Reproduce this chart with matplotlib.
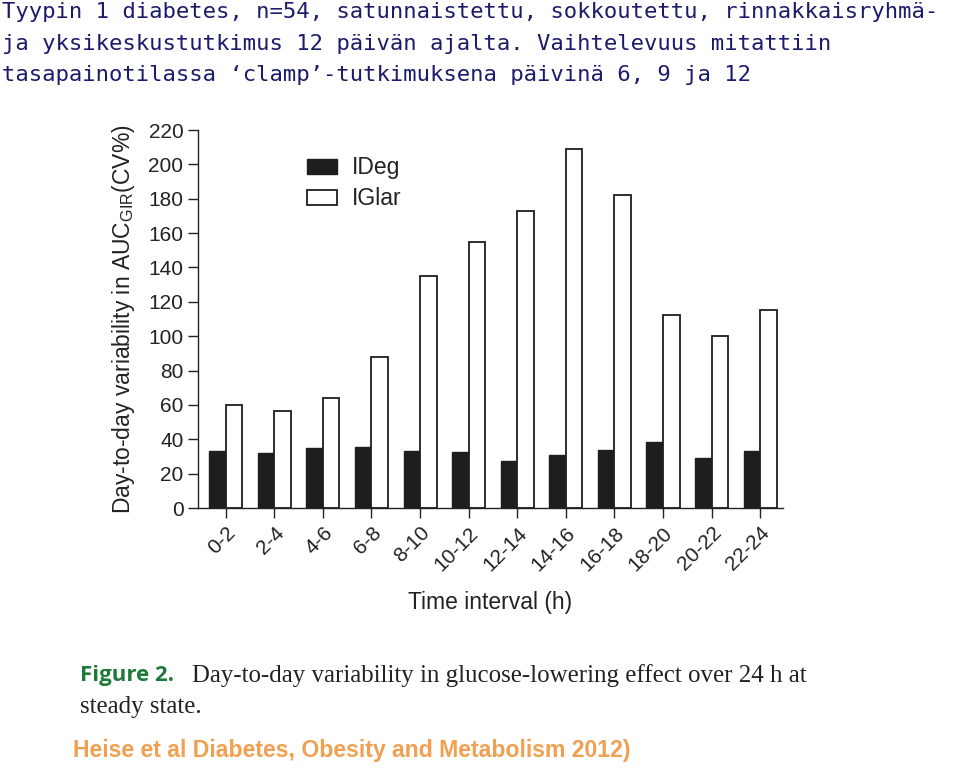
import matplotlib
matplotlib.use("Agg")
import matplotlib.pyplot as plt
import numpy as np

# data
intervals = ['0-2', '2-4', '4-6', '6-8', '8-10', '10-12', '12-14',
             '14-16', '16-18', '18-20', '20-22', '22-24']
ideg = [33, 32, 35, 35.5, 33, 32.5, 27.5, 31, 34, 38.5, 29, 33]
iglar = [60, 56.5, 64, 88, 135, 155, 173, 209, 182, 112.5, 100, 115]
yticks = np.arange(0, 221, 20)

title_lines = [
    'Tyypin 1 diabetes, n=54, satunnaistettu, sokkoutettu, rinnakkaisryhmä-',
    'ja yksikeskustutkimus 12 päivän ajalta. Vaihtelevuus mitattiin',
    'tasapainotilassa \u2018clamp\u2019-tutkimuksena päivinä 6, 9 ja 12',
]

plt.rcParams['font.family'] = ['Liberation Sans', 'DejaVu Sans']

fig = plt.figure(figsize=(9.6, 7.69), dpi=100)
ax = fig.add_axes([198 / 960, 1 - 508 / 769, 585 / 960, 378 / 769])

x = np.arange(len(intervals))
w = 0.34
ax.bar(x - w / 2, ideg, w, color='#1e1e1e', edgecolor='#1e1e1e', linewidth=1, label='IDeg')
ax.bar(x + w / 2, iglar, w, color='white', edgecolor='#1e1e1e', linewidth=1.3, label='IGlar')

ax.set_xlim(-0.57, 11.47)
ax.set_ylim(0, 220)
ax.set_yticks(yticks)
ax.set_xticks(x)
ax.set_xticklabels(intervals, rotation=45, ha='right', rotation_mode='anchor')
ax.tick_params(axis='both', labelsize=15, length=7, width=1, color='#222222',
               labelcolor='#222222')
ax.tick_params(axis='x', pad=4)
for s in ['top', 'right']:
    ax.spines[s].set_visible(False)
for s in ['left', 'bottom']:
    ax.spines[s].set_linewidth(1)
    ax.spines[s].set_color('#222222')

ax.set_ylabel(r'Day-to-day variability in AUC$_{\mathregular{GIR}}$(CV%)',
              fontsize=16.5, color='#222222', labelpad=8)
ax.set_xlabel('Time interval (h)', fontsize=16.5, color='#222222', labelpad=12)

ax.legend(loc='upper left', bbox_to_anchor=(0.186, 0.93), frameon=False,
          fontsize=16.5, handlelength=1.3, handleheight=0.65, handletextpad=0.65,
          labelspacing=0.35, borderpad=0, borderaxespad=0, labelcolor='#222222')

navy = '#1b1b6b'
for i, line in enumerate(title_lines):
    fig.text(2 / 960, 1 - (2 + i * 31.5) / 769, line, fontsize=16, color=navy,
             ha='left', va='top', family=['DejaVu Sans Mono'])

green = '#1f7a3a'
fig.text(80 / 960, 1 - 676 / 769, 'Figure 2.', fontsize=16, fontweight='bold',
         color=green, va='center', family=['Open Sans', 'DejaVu Sans'])
fig.text(192 / 960, 1 - 676 / 769,
         'Day-to-day variability in glucose-lowering effect over 24 h at',
         fontsize=17.9, color='#222222', va='center', family=['Liberation Serif'])
fig.text(80 / 960, 1 - 707 / 769, 'steady state.', fontsize=17.9, color='#222222',
         va='center', family=['Liberation Serif'])

fig.text(73 / 960, 1 - 750 / 769, 'Heise et al Diabetes, Obesity and Metabolism 2012)',
         fontsize=16.6, fontweight='bold', color='#f0a050', va='center')

fig.savefig('out.png', dpi=100)
